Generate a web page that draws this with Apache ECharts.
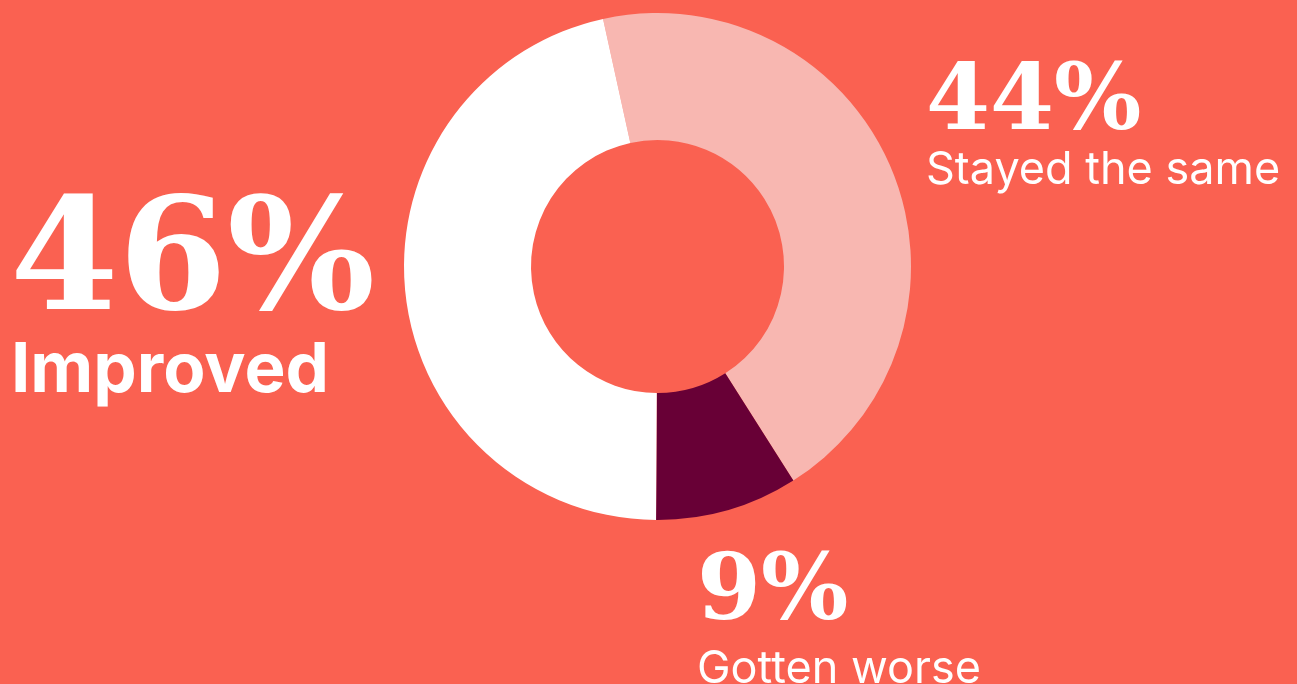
<!DOCTYPE html>
<html><head><meta charset="utf-8">
<script src="https://cdn.jsdelivr.net/npm/echarts@6/dist/echarts.min.js"></script>
<style>html,body{margin:0;padding:0;background:#FA6151;}#c{width:1297px;height:684px;}</style>
</head><body><div id="c"></div>
<script>
const categories = ['Stayed the same', 'Gotten worse', 'Improved'];
const values = [44, 9, 46];
const colors = ['#F8B7B1', '#680036', '#FFFFFF'];

const bg = '#FA6151';
const serif = '"DejaVu Serif", "Liberation Serif", serif';
const sans = 'Inter, "Noto Sans", sans-serif';

const labelPos = [
  { x: 926, pctY: 105, pctSize: 92, nameY: 170, nameSize: 45, nameWeight: 400 },
  { x: 697, pctY: 595, pctSize: 92, nameY: 669, nameSize: 45, nameWeight: 400 },
  { x: 10, pctY: 268, pctSize: 156, nameY: 371, nameSize: 69, nameWeight: 700 }
];

const graphics = [];
categories.forEach((c, i) => {
  const p = labelPos[i];
  graphics.push({
    type: 'text', x: p.x, y: p.pctY, silent: true,
    style: { text: values[i] + '%', fill: '#fff', font: `bold ${p.pctSize}px ${serif}`, verticalAlign: 'middle', align: 'left' }
  });
  graphics.push({
    type: 'text', x: p.x + (i === 2 ? 1 : 0), y: p.nameY, silent: true,
    style: { text: c, fill: '#fff', font: `${p.nameWeight} ${p.nameSize}px ${sans}`, verticalAlign: 'middle', align: 'left' }
  });
});

const chart = echarts.init(document.getElementById('c'), null, { renderer: 'canvas' });
chart.setOption({
  backgroundColor: bg,
  animation: false,
  series: [{
    type: 'pie',
    center: [657.5, 266.5],
    radius: [126.5, 253.5],
    startAngle: 102.4,
    clockwise: true,
    label: { show: false },
    labelLine: { show: false },
    emphasis: { disabled: true },
    itemStyle: { borderWidth: 0 },
    data: categories.map((c, i) => ({ name: c, value: values[i], itemStyle: { color: colors[i] } }))
  }],
  graphic: graphics
});
</script>
</body></html>
